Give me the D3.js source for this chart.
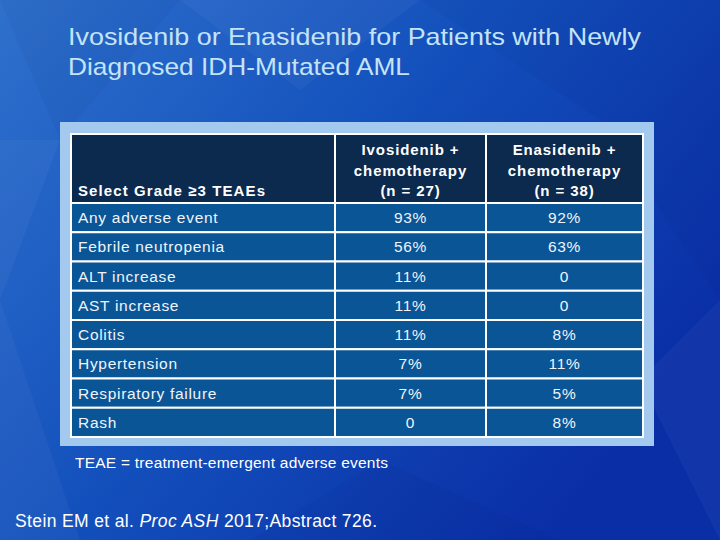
<!DOCTYPE html>
<html><head><meta charset="utf-8">
<script src="https://cdn.jsdelivr.net/npm/d3@7/dist/d3.min.js"></script>
<style>html,body{margin:0;padding:0;background:#1546b4;}svg{display:block;}</style>
</head><body>
<script>
const titleLines = ["Ivosidenib or Enasidenib for Patients with Newly", "Diagnosed IDH-Mutated AML"];
const rowHeader = "Select Grade \u22653 TEAEs";
const colHeaders = [["Ivosidenib +", "chemotherapy", "(n = 27)"], ["Enasidenib +", "chemotherapy", "(n = 38)"]];
const events = ["Any adverse event", "Febrile neutropenia", "ALT increase", "AST increase", "Colitis", "Hypertension", "Respiratory failure", "Rash"];
const ivosidenib = ["93%", "56%", "11%", "11%", "11%", "7%", "7%", "0"];
const enasidenib = ["92%", "63%", "0", "0", "8%", "11%", "5%", "8%"];
const footnote = "TEAE = treatment-emergent adverse events";
const citation = [["Stein EM et al.  ", "normal"], ["Proc ASH", "italic"], [" 2017;Abstract 726.", "normal"]];

const W = 720, H = 540;
const svg = d3.select("body").append("svg").attr("width", W).attr("height", H);
const defs = svg.append("defs");
const g1 = defs.append("linearGradient").attr("id", "bg").attr("x1", "0").attr("y1", "0").attr("x2", "1").attr("y2", "0.6");
g1.append("stop").attr("offset", "0").attr("stop-color", "#2f70cc");
g1.append("stop").attr("offset", "0.5").attr("stop-color", "#1350bc");
g1.append("stop").attr("offset", "1").attr("stop-color", "#0a2ea6");
svg.append("rect").attr("width", W).attr("height", H).attr("fill", "url(#bg)");

// subtle facets
const facets = [
  [[0,0],[180,0],[60,140]], [[180,0],[420,0],[300,90]], [[420,0],[720,0],[600,120]],
  [[0,300],[80,540],[0,540]], [[600,120],[720,0],[720,300]], [[0,140],[60,140],[0,300]],
  [[380,460],[560,540],[250,540]], [[640,380],[720,300],[720,540]]
];
svg.append("g").selectAll("path").data(facets).join("path")
  .attr("d", d => "M" + d.map(p => p.join(",")).join("L") + "Z")
  .attr("fill", (d, i) => i % 2 ? "#ffffff" : "#000a40")
  .attr("opacity", 0.035);

const font = "Liberation Sans, Arial, sans-serif";

// title
svg.append("g").selectAll("text").data(titleLines).join("text")
  .attr("x", 68).attr("y", (d, i) => 45 + i * 30)
  .attr("fill", "#c4e3f7").attr("font-family", font)
  .attr("font-size", 24).attr("textLength", (d, i) => i === 0 ? 573 : 342).attr("lengthAdjust", "spacingAndGlyphs")
  .text(d => d);

// frame
svg.append("rect").attr("x", 60).attr("y", 122).attr("width", 594).attr("height", 324).attr("fill", "#a3c9ee");

// table scales
const colEdges = [71, 335, 486, 643];
const headTop = 134, headBot = 203;
const y = d3.scaleBand().domain(events).range([headBot, 437]).padding(0);

const tbl = svg.append("g");
tbl.selectAll("rect.h").data([0, 1, 2]).join("rect").attr("class", "h")
  .attr("x", i => colEdges[i]).attr("y", headTop)
  .attr("width", i => colEdges[i + 1] - colEdges[i]).attr("height", headBot - headTop)
  .attr("fill", "#0b2a4e").attr("stroke", "#ffffff").attr("stroke-width", 2);
const cells = [];
events.forEach((e) => [0, 1, 2].forEach(c => cells.push({ r: e, c })));
tbl.selectAll("rect.b").data(cells).join("rect").attr("class", "b")
  .attr("x", d => colEdges[d.c]).attr("y", d => y(d.r))
  .attr("width", d => colEdges[d.c + 1] - colEdges[d.c]).attr("height", y.bandwidth())
  .attr("fill", "#0a5596").attr("stroke", "#ffffff").attr("stroke-width", 2);

tbl.append("text").attr("x", 78).attr("y", 196).attr("fill", "#fff").attr("font-family", font)
  .attr("font-size", 15).attr("font-weight", "bold").attr("textLength", 187).text(rowHeader);

colHeaders.forEach((lines, ci) => {
  const cx = (colEdges[ci + 1] + colEdges[ci + 2]) / 2;
  tbl.append("g").selectAll("text").data(lines).join("text")
    .attr("x", cx).attr("y", (d, i) => 155 + i * 20.5).attr("text-anchor", "middle")
    .attr("fill", "#fff").attr("font-family", font).attr("font-size", 15).attr("font-weight", "bold").attr("letter-spacing", 0.9)
    .text(d => d);
});

const txt = tbl.append("g").attr("fill", "#f0f4fa").attr("font-family", font).attr("font-size", 15.5).attr("letter-spacing", 0.7);
txt.selectAll("text.ev").data(events).join("text").attr("class", "ev")
  .attr("x", 78).attr("y", d => y(d) + y.bandwidth() / 2 + 5.5).text(d => d);
txt.selectAll("text.iv").data(events).join("text").attr("class", "iv")
  .attr("x", (colEdges[1] + colEdges[2]) / 2).attr("text-anchor", "middle")
  .attr("y", d => y(d) + y.bandwidth() / 2 + 5.5).text((d, i) => ivosidenib[i]);
txt.selectAll("text.en").data(events).join("text").attr("class", "en")
  .attr("x", (colEdges[2] + colEdges[3]) / 2).attr("text-anchor", "middle")
  .attr("y", d => y(d) + y.bandwidth() / 2 + 5.5).text((d, i) => enasidenib[i]);

svg.append("text").attr("x", 75).attr("y", 468).attr("fill", "#fff").attr("font-family", font)
  .attr("font-size", 15.5).attr("textLength", 313).text(footnote);

const cit = svg.append("text").attr("x", 15).attr("y", 527).attr("fill", "#fff").attr("font-family", font)
  .attr("font-size", 17.5).attr("textLength", 362);
cit.selectAll("tspan").data(citation).join("tspan").attr("font-style", d => d[1]).text(d => d[0]);
</script>
</body></html>
